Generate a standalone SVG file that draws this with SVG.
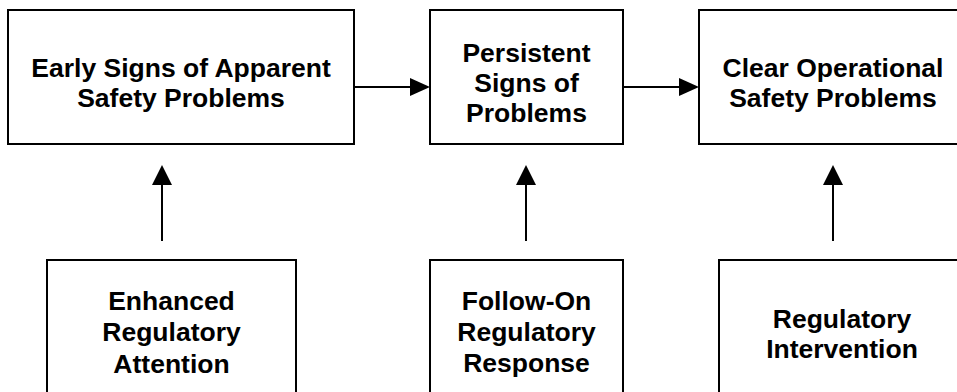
<svg xmlns="http://www.w3.org/2000/svg" width="957" height="392" viewBox="0 0 957 392">
<style>
.box{fill:#fff;stroke:#000;stroke-width:2}
.t{font-family:"Liberation Sans",Arial,sans-serif;font-weight:bold;font-size:26.5px;text-anchor:middle;fill:#000}
.ln{stroke:#000;stroke-width:2;fill:none}
.ah{fill:#000}
</style>
<rect width="957" height="392" fill="#fff"/>
<g id="early">
<rect class="box" x="8" y="10" width="346" height="134"/>
<text class="t" x="181" y="77">Early Signs of Apparent</text>
<text class="t" x="181" y="107">Safety Problems</text>
</g>
<g id="persistent">
<rect class="box" x="430" y="10" width="193" height="134"/>
<text class="t" x="526.5" y="62">Persistent</text>
<text class="t" x="526.5" y="92">Signs of</text>
<text class="t" x="526.5" y="122">Problems</text>
</g>
<g id="clear">
<rect class="box" x="699" y="10" width="275" height="134"/>
<text class="t" x="833" y="77">Clear Operational</text>
<text class="t" x="833" y="107">Safety Problems</text>
</g>
<g id="enhanced">
<rect class="box" x="47" y="260" width="249" height="150"/>
<text class="t" x="171.5" y="310">Enhanced</text>
<text class="t" x="171.5" y="341">Regulatory</text>
<text class="t" x="171.5" y="373">Attention</text>
</g>
<g id="followon">
<rect class="box" x="430" y="260" width="193" height="150"/>
<text class="t" x="526.5" y="310">Follow-On</text>
<text class="t" x="526.5" y="341">Regulatory</text>
<text class="t" x="526.5" y="372">Response</text>
</g>
<g id="intervention">
<rect class="box" x="719" y="260" width="248" height="150"/>
<text class="t" x="842" y="328">Regulatory</text>
<text class="t" x="842" y="358">Intervention</text>
</g>
<g id="connectors">
<line class="ln" x1="354" y1="87" x2="412" y2="87"/>
<polygon class="ah" points="430,87 410,78 410,96"/>
<line class="ln" x1="623" y1="87" x2="681" y2="87"/>
<polygon class="ah" points="699,87 679,78 679,96"/>
<line class="ln" x1="162" y1="241" x2="162" y2="183"/>
<polygon class="ah" points="162,165 152,185 172,185"/>
<line class="ln" x1="526" y1="241" x2="526" y2="183"/>
<polygon class="ah" points="526,165 516,185 536,185"/>
<line class="ln" x1="833" y1="241" x2="833" y2="183"/>
<polygon class="ah" points="833,165 823,185 843,185"/>
</g>
</svg>
